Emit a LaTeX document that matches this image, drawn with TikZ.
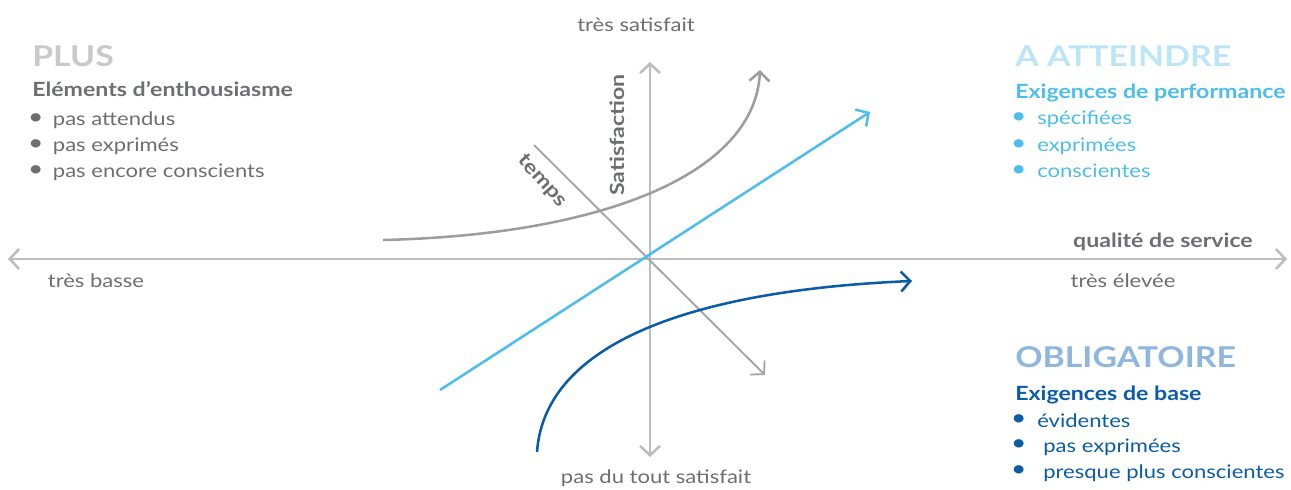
\documentclass[tikz,border=0pt]{standalone}
\usepackage{fontspec}
\setmainfont{Lato}[FakeStretch=1.18]
\usetikzlibrary{arrows.meta}
\definecolor{axisgray}{HTML}{BDBDBD}
\definecolor{timegray}{HTML}{A5A5A7}
\definecolor{curvegray}{HTML}{9D9D9F}
\definecolor{txtgray}{HTML}{6D6E71}
\definecolor{plusgray}{HTML}{C9C9C9}
\definecolor{skyblue}{HTML}{4CBDEC}
\definecolor{paleblue}{HTML}{BDE5F8}
\definecolor{midblue}{HTML}{8EB6DE}
\definecolor{navy}{HTML}{0B5CA8}
\newcommand{\bul}[2][16pt]{\makebox[#1][l]{\hspace*{-3.2pt}\raisebox{1.2pt}{\scalebox{1.2}{\textbullet}}}#2}

\begin{document}
\begin{tikzpicture}[x=0.75pt, y=0.75pt,
  every node/.style={inner sep=0pt, text=txtgray, font=\fontsize{14}{16}\selectfont},
  axis/.style={draw=axisgray, line width=1.9pt,
               {Straight Barb[length=7pt,width=15pt]}-{Straight Barb[length=7pt,width=15pt]}},
  tline/.style={draw=timegray, line width=1.4pt, -{Straight Barb[length=7pt,width=15pt]}},
  crv/.style={line width=1.9pt, -{Straight Barb[length=7pt,width=15pt]}},
  ttl/.style={anchor=base west, font=\fontsize{21.5}{24}\bfseries\selectfont},
  sub/.style={anchor=base west, font=\fontsize{14.7}{16}\bfseries\selectfont},
  itm/.style={anchor=base west},
  bold/.style={font=\fontsize{14.7}{16}\bfseries\selectfont}
]
  \useasboundingbox (0,0) rectangle (1291,489);

  % axes
  \coordinate (xl) at (8,230);
  \coordinate (xr) at (1287,230);
  \coordinate (yb) at (650,32);
  \coordinate (yt) at (650,427);
  \draw[axis] (xl) -- (xr);
  \draw[axis] (yb) -- (yt);

  \node (hi) at (636,464) {très satisfait};
  \node (lo) at (656,11) {pas du tout satisfait};
  \node (low) at (96,208) {très basse};
  \node (high) at (1123,208) {très élevée};
  \node[bold, anchor=base east] (qos) at (1253,241) {qualité de service};
  \node[bold, rotate=90] (sat) at (617,354) {Satisfaction};
  \node[bold, rotate=-48] (tps) at (542,308) {temps};

  % time
  \coordinate (t0) at (534,344);
  \coordinate (t1) at (765,114);
  \draw[tline] (t0) -- (t1);

  % curves
  \coordinate (p0) at (440,99);
  \coordinate (p1) at (870,377);
  \draw[crv, draw=skyblue] (p0) -- (p1);

  \coordinate (e0) at (383,249);
  \coordinate (e1) at (760,419);
  \draw[crv, draw=curvegray] (e0) .. controls (600,254) and (755,314) .. (e1);

  \coordinate (b0) at (537,37);
  \coordinate (b1) at (912,208);
  \draw[crv, draw=navy] (b0) .. controls (545,149) and (700,199) .. (b1);

  % PLUS
  \node[ttl, text=plusgray] (plus) at (32,422) {PLUS};
  \node[sub] (plus-sub) at (32,392) {Eléments d’enthousiasme};
  \node[itm] (plus-a) at (32,363) {\bul[15.5pt]{pas attendus}};
  \node[itm] (plus-b) at (32,337) {\bul[15.5pt]{pas exprimés}};
  \node[itm] (plus-c) at (32,311) {\bul[15.5pt]{pas encore conscients}};

  % A ATTEINDRE
  \node[ttl, text=paleblue] (perf) at (1015,422) {A ATTEINDRE};
  \node[sub, text=skyblue] (perf-sub) at (1015,390) {Exigences de performance};
  \node[itm, text=skyblue] (perf-a) at (1015,364) {\bul[16.5pt]{spécifiées}};
  \node[itm, text=skyblue] (perf-b) at (1015,337) {\bul[16.5pt]{exprimées}};
  \node[itm, text=skyblue] (perf-c) at (1015,311) {\bul[16.5pt]{conscientes}};

  % OBLIGATOIRE
  \node[ttl, text=midblue] (base) at (1015,121) {OBLIGATOIRE};
  \node[sub, text=navy] (base-sub) at (1015,89) {Exigences de base};
  \node[itm, text=navy] (base-a) at (1015,62) {\bul[16.5pt]{évidentes}};
  \node[itm, text=navy] (base-b) at (1015,37) {\bul[21pt]{pas exprimées}};
  \node[itm, text=navy] (base-c) at (1015,11) {\bul[21pt]{presque plus conscientes}};
\end{tikzpicture}
\end{document}
